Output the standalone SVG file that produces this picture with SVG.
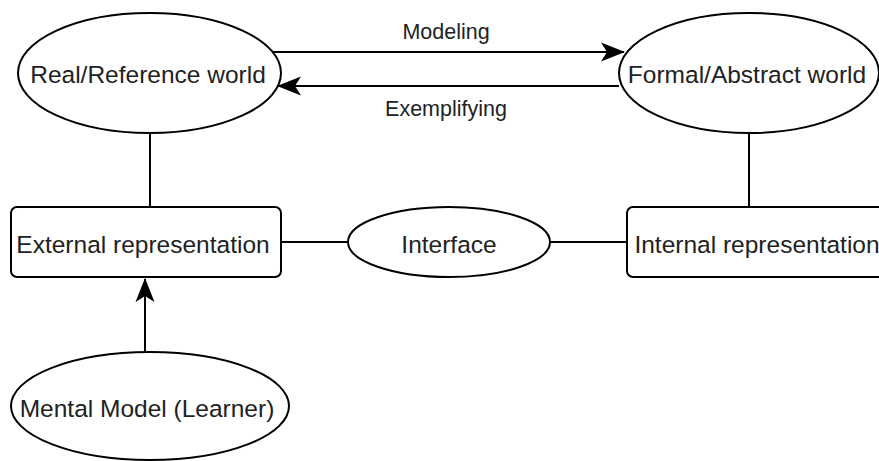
<svg xmlns="http://www.w3.org/2000/svg" width="879" height="461" viewBox="0 0 879 461">
<style>
.shape{fill:#fff;stroke:#000;stroke-width:2}
.edge{fill:none;stroke:#000;stroke-width:2}
.t{font-family:"Liberation Sans",Arial,sans-serif;font-size:24.5px;fill:#222;text-anchor:middle}
.lbl{font-family:"Liberation Sans",Arial,sans-serif;font-size:21.5px;fill:#222;text-anchor:middle}
</style>
<defs>
<marker id="arr" markerUnits="userSpaceOnUse" markerWidth="24" markerHeight="20" viewBox="0 0 24 20" refX="23" refY="10" orient="auto">
<path d="M0,0.5 L24,10 L0,19.5 L6,10 Z" fill="#000"/>
</marker>
</defs>
<rect width="879" height="461" fill="#fff"/>
<g id="connectors">
<line class="edge" x1="150" y1="133" x2="150" y2="207"/>
<line class="edge" x1="749" y1="133" x2="749" y2="207"/>
<line class="edge" x1="281" y1="242" x2="348" y2="242"/>
<line class="edge" x1="550" y1="242" x2="627" y2="242"/>
<line class="edge" x1="272" y1="52" x2="624" y2="52" marker-end="url(#arr)"/>
<line class="edge" x1="619" y1="86" x2="278" y2="86" marker-end="url(#arr)"/>
<line class="edge" x1="145" y1="352" x2="145" y2="279" marker-end="url(#arr)"/>
<text class="lbl" x="446" y="39">Modeling</text>
<text class="lbl" x="446" y="116">Exemplifying</text>
</g>
<g id="real">
<ellipse class="shape" cx="149.5" cy="73" rx="131.5" ry="60"/>
<text class="t" x="148" y="83">Real/Reference world</text>
</g>
<g id="formal">
<ellipse class="shape" cx="749" cy="73" rx="130" ry="60"/>
<text class="t" x="747" y="83">Formal/Abstract world</text>
</g>
<g id="external">
<rect class="shape" x="11" y="207" width="270" height="70" rx="6"/>
<text class="t" x="143" y="253">External representation</text>
</g>
<g id="interface">
<ellipse class="shape" cx="449" cy="242" rx="101" ry="35"/>
<text class="t" x="449" y="253">Interface</text>
</g>
<g id="internal">
<rect class="shape" x="627" y="207" width="270" height="70" rx="6"/>
<text class="t" x="757" y="253">Internal representation</text>
</g>
<g id="mental">
<ellipse class="shape" cx="150" cy="406" rx="139" ry="54"/>
<text class="t" x="147" y="417">Mental Model (Learner)</text>
</g>
</svg>
